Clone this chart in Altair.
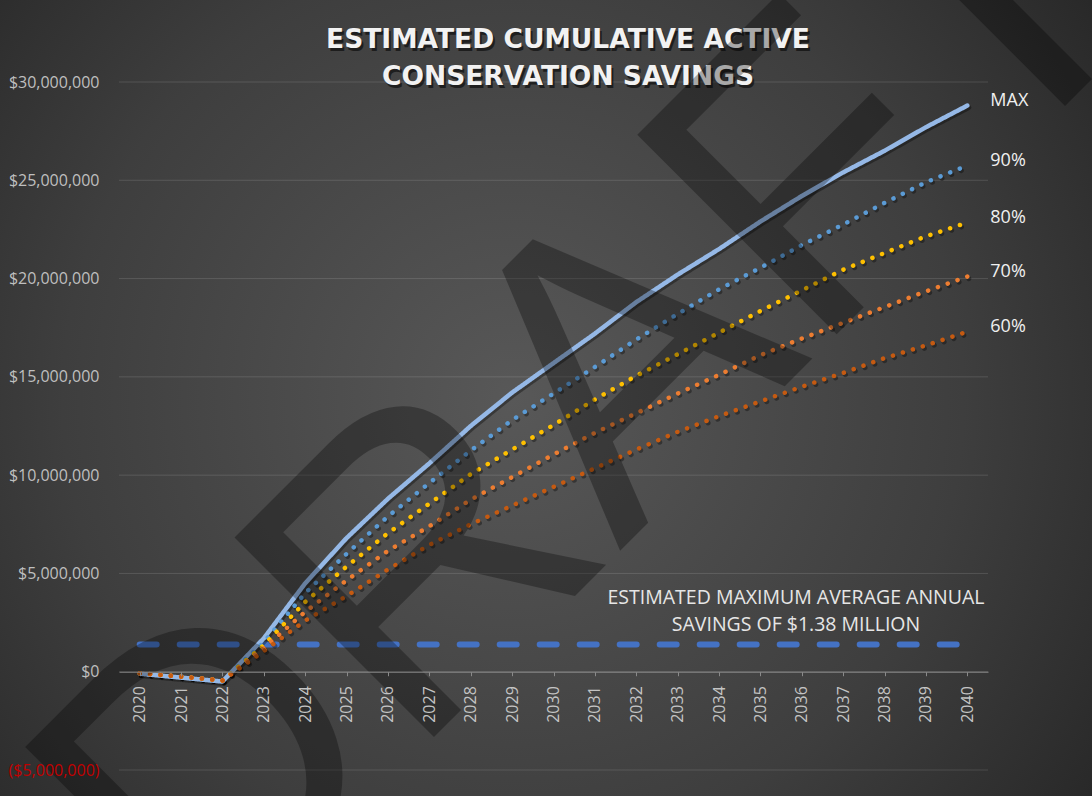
import altair as alt
import pandas as pd

# Cumulative active conservation savings, in millions of dollars
years = [str(y) for y in range(2020, 2041)]
max_savings = [-0.10, -0.30, -0.50, 1.70, 4.50, 6.80, 8.80, 10.60, 12.50, 14.20, 15.70,
               17.20, 18.80, 20.20, 21.50, 22.90, 24.20, 25.40, 26.50, 27.70, 28.80]
pct90 = [-0.08, -0.25, -0.45, 1.50, 4.00, 6.00, 7.90, 9.60, 11.25, 12.80, 14.15,
         15.50, 16.90, 18.20, 19.45, 20.55, 21.70, 22.75, 23.85, 24.90, 25.75]
pct80 = [-0.08, -0.25, -0.45, 1.35, 3.55, 5.35, 7.05, 8.55, 10.05, 11.30, 12.55,
         13.85, 15.05, 16.15, 17.25, 18.35, 19.40, 20.45, 21.30, 22.15, 22.85]
pct70 = [-0.08, -0.25, -0.45, 1.20, 3.05, 4.65, 6.15, 7.40, 8.75, 9.90, 11.05,
         12.15, 13.15, 14.15, 15.10, 16.10, 16.95, 17.75, 18.55, 19.35, 20.10]
pct60 = [-0.08, -0.25, -0.45, 1.05, 2.60, 3.85, 5.20, 6.45, 7.50, 8.45, 9.40,
         10.35, 11.30, 12.20, 13.00, 13.75, 14.50, 15.20, 15.95, 16.60, 17.30]

series_names = ["MAX", "90%", "80%", "70%", "60%"]
series_values = [max_savings, pct90, pct80, pct70, pct60]
series_colors = ["#95b8e6", "#5b9bd5", "#ffc000", "#ed7d31", "#c55a11"]

avg_annual_savings = 1.38  # millions
y_ticks = [-5, 0, 5, 10, 15, 20, 25, 30]

title_lines = ["ESTIMATED CUMULATIVE ACTIVE", "CONSERVATION SAVINGS"]
note_lines = ["ESTIMATED MAXIMUM AVERAGE ANNUAL", "SAVINGS OF $1.38 MILLION"]
watermark = "DRAFT"

W, H = 869, 688
PAD = {"left": 119, "top": 82, "right": 1092 - 119 - W, "bottom": 796 - 82 - H}

rows = []
for name, vals in zip(series_names, series_values):
    for yr, v in zip(years, vals):
        rows.append({"year": yr, "series": name, "savings": v * 1e6})
df = pd.DataFrame(rows)
avg_df = pd.DataFrame({"year": years, "savings": [avg_annual_savings * 1e6] * len(years)})
grid_df = pd.DataFrame({"savings": [t * 1e6 for t in y_ticks]})
one = pd.DataFrame({"k": [0]})

x_enc = alt.X(
    "year:O",
    scale=alt.Scale(domain=years, padding=0.5),
    axis=alt.Axis(
        title=None, labelAngle=270, labelFont="Open Sans", labelFontSize=16,
        labelColor="#c4c4c4", domainColor="#8a8a8a", tickColor="#8a8a8a",
        tickSize=4, labelPadding=10, grid=False, zindex=1,
        offset=-(H * 5 / 35),
    ),
)
y_scale = alt.Scale(domain=[-5e6, 30e6], nice=False, zero=False)
y_enc = alt.Y(
    "savings:Q",
    scale=y_scale,
    axis=alt.Axis(
        title=None, values=[t * 1e6 for t in y_ticks], format="($,.0f",
        labelFont="Open Sans", labelFontSize=16,
        labelColor=alt.condition("datum.value < 0", alt.value("#c00000"), alt.value("#bfbfbf")),
        domain=False, ticks=False, labelPadding=20, grid=False, zindex=1,
    ),
)

# gradient backdrop covering the full canvas
backdrop = alt.Chart(one).mark_rect(
    fill=alt.RadialGradient(
        gradient="radial", x1=0.47, y1=0.5, r1=0.0, x2=0.47, y2=0.5, r2=0.75,
        stops=[alt.GradientStop(color="#585858", offset=0),
               alt.GradientStop(color="#3e3e3e", offset=0.55),
               alt.GradientStop(color="#1f1f1f", offset=1)],
    )
).encode(
    x=alt.value(-PAD["left"]), x2=alt.value(W + PAD["right"]),
    y=alt.value(-PAD["top"]), y2=alt.value(H + PAD["bottom"]),
)

# horizontal gridlines at every tick value
grid = alt.Chart(grid_df).mark_rule(color="#ffffff", opacity=0.13, strokeWidth=1).encode(
    y=y_enc, x=alt.value(0), x2=alt.value(W),
)

avg_line = alt.Chart(avg_df).mark_line(
    color="#4472c4", strokeWidth=6, strokeDash=[17, 23], strokeCap="round"
).encode(x=x_enc, y=y_enc)

shadow_layers = []
line_layers = []
for name, color in zip(series_names, series_colors):
    sub = df[df["series"] == name]
    dash = [1, 0] if name == "MAX" else [0.1, 10.3]
    shadow_layers.append(
        alt.Chart(sub).mark_line(
            color="#000000", opacity=0.35, strokeWidth=5, strokeDash=dash,
            strokeCap="round", strokeJoin="round", xOffset=1.5, yOffset=2,
        ).encode(x=x_enc, y=y_enc)
    )
    line_layers.append(
        alt.Chart(sub).mark_line(
            color=color, strokeWidth=4.5, strokeDash=dash,
            strokeCap="round", strokeJoin="round",
        ).encode(x=x_enc, y=y_enc)
    )

end_labels = alt.Chart(df[df["year"] == years[-1]]).mark_text(
    align="left", baseline="middle", dx=23, dy=-5,
    font="Open Sans", fontSize=18, color="#f0f0f0",
).encode(x=x_enc, y=y_enc, text="series:N")

title_shadow = alt.Chart(one).mark_text(
    text=title_lines, font="DejaVu Sans", fontWeight="bold", fontSize=26.5,
    lineHeight=37, align="center", baseline="middle", color="#000000", opacity=0.55,
).encode(x=alt.value(449 + 2), y=alt.value(-42 + 3))
title = alt.Chart(one).mark_text(
    text=title_lines, font="DejaVu Sans", fontWeight="bold", fontSize=26.5,
    lineHeight=37, align="center", baseline="middle", color="#f2f2f2",
).encode(x=alt.value(449), y=alt.value(-42))

note = alt.Chart(one).mark_text(
    text=note_lines, font="Open Sans", fontSize=19.5, lineHeight=27,
    align="center", baseline="middle", color="#e6e6e6",
).encode(x=alt.value(677), y=alt.value(515.5))

stamp = alt.Chart(one).mark_text(
    text=watermark, font="Liberation Sans", fontSize=410, angle=315,
    align="center", baseline="middle", color="#000000", opacity=0.3,
).encode(x=alt.value(478), y=alt.value(318))

chart = alt.layer(
    backdrop, grid, avg_line, *shadow_layers, *line_layers, end_labels,
    note, title_shadow, title, stamp,
).properties(
    width=W, height=H, padding=PAD, autosize=alt.AutoSizeParams(type="none"),
    background="#262626",
).configure_view(stroke=None)

chart.save("out.html", embed_options={"renderer": "svg", "actions": False})
